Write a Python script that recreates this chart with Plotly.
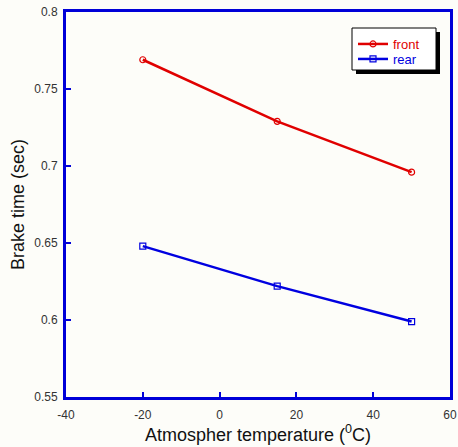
import plotly.graph_objects as go

temps = [-20, 15, 50]
front = [0.769, 0.729, 0.696]
rear = [0.648, 0.622, 0.599]
xticks = [-40, -20, 0, 20, 40, 60]
yticks = [0.55, 0.6, 0.65, 0.7, 0.75, 0.8]

FONT = "Liberation Sans, Arial, sans-serif"
L, R, T, B = 66, 8, 12, 50
PW, PH = 458 - L - R, 447 - T - B
BG = "#fdfdf9"


def px(x):
    return (x - L) / PW


def py(y):
    return 1 - (y - T) / PH


fig = go.Figure()
fig.add_trace(go.Scatter(x=temps, y=front, mode="lines+markers",
                         name="<span style='color:#e00000'>front</span>",
                         line=dict(color="#e00000", width=2.5),
                         marker=dict(symbol="circle-open", size=6, color="#e00000", line=dict(width=1.2)),
                         legend="legend"))
fig.add_trace(go.Scatter(x=temps, y=rear, mode="lines+markers",
                         name="<span style='color:#0000e0'>rear</span>",
                         line=dict(color="#0000e0", width=2.5),
                         marker=dict(symbol="square-open", size=6, color="#0000e0", line=dict(width=1.2)),
                         legend="legend2"))

axis_common = dict(showline=True, linecolor="#0000d8", linewidth=3, mirror=True,
                   ticks="inside", ticklen=5, tickwidth=1.5, tickcolor="#0000d8",
                   showgrid=False, zeroline=False,
                   tickfont=dict(family=FONT, size=12, color="#333333"))

fig.update_xaxes(range=[-40, 60], tickvals=xticks, ticktext=[str(v) for v in xticks],
                 ticklabelstandoff=5,
                 title=dict(text="Atmospher temperature (<sup>0</sup>C)", standoff=2,
                            font=dict(family=FONT, size=18, color="#111111")),
                 **axis_common)
fig.update_yaxes(range=[0.55, 0.8], tickvals=yticks, ticktext=[f"{v:g}" for v in yticks],
                 ticklabelstandoff=3,
                 title=dict(text="Brake time (sec)", standoff=5,
                            font=dict(family=FONT, size=18, color="#111111")),
                 **axis_common)

# legend shadow and box (drawn below the legend)
fig.add_shape(type="rect", xref="paper", yref="paper",
              x0=px(356), x1=px(440), y0=py(74), y1=py(32),
              fillcolor="#000000", line=dict(width=0), layer="below")
fig.add_shape(type="rect", xref="paper", yref="paper",
              x0=px(352), x1=px(436), y0=py(70), y1=py(28),
              fillcolor="#ffffff", line=dict(width=1, color="#000000"), layer="below")

leg_common = dict(xanchor="left", yanchor="top", bgcolor="rgba(0,0,0,0)", borderwidth=0,
                  font=dict(family=FONT, size=13), itemwidth=30)
fig.update_layout(
    width=458, height=447,
    margin=dict(l=L, r=R, t=T, b=B, autoexpand=False),
    paper_bgcolor=BG, plot_bgcolor="rgba(0,0,0,0)",
    showlegend=True,
    legend=dict(x=px(353), y=py(29), **leg_common),
    legend2=dict(x=px(353), y=py(44), **leg_common),
)
fig.write_html("out.html", config={"displayModeBar": False},
               post_script="document.body.style.margin='0';")
